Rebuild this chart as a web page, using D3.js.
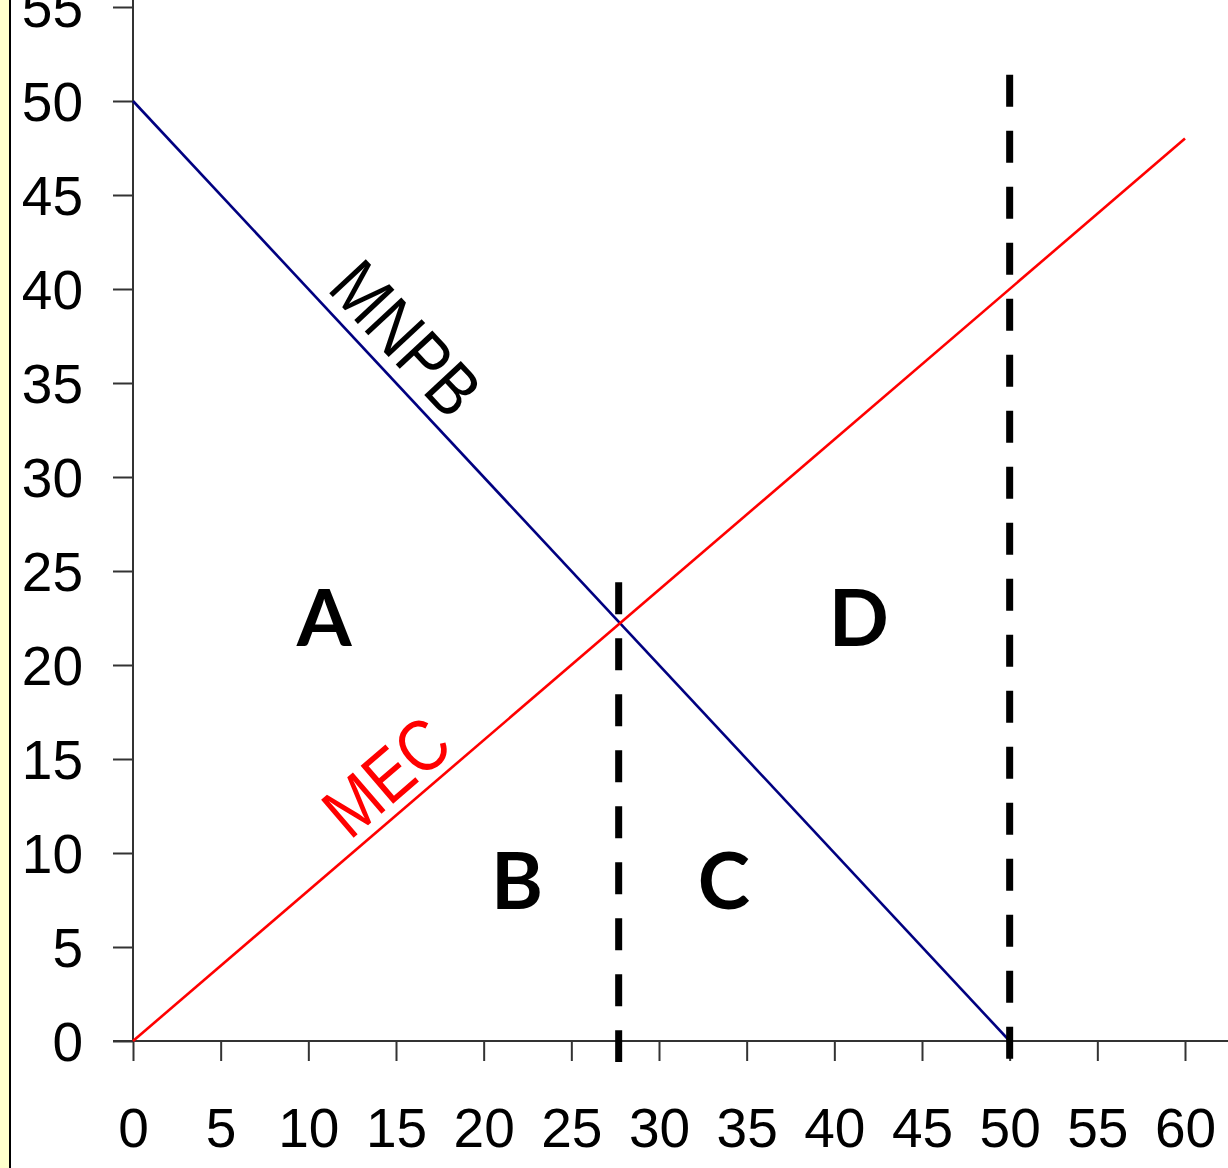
<!DOCTYPE html>
<html>
<head>
<meta charset="utf-8">
<script src="https://cdn.jsdelivr.net/npm/d3@7"></script>
<style>
  body { margin: 0; background: #fff; }
  svg { display: block; }
</style>
</head>
<body>
<div id="vis"></div>
<script>
// chart data
const X_TICKS = [0, 5, 10, 15, 20, 25, 30, 35, 40, 45, 50, 55, 60];
const Y_TICKS = [0, 5, 10, 15, 20, 25, 30, 35, 40, 45, 50, 55];
const MNPB = [{q: 0, v: 50}, {q: 50, v: 0}];
const MEC = [{q: 0, v: 0}, {q: 60, v: 48}];
const DASHED_Q = [27.7, 50];
const DASHED_TOP = [24.4, 51.4];
const AREA_LABELS = ["A", "B", "C", "D"];
const AREA_Q = [10.9, 21.9, 33.7, 41.4];
const AREA_V = [21, 7, 7, 21];

const FRAME_WIDTH = 1228;
const FRAME_HEIGHT = 1168;

const FRAME = d3.select("#vis")
  .append("svg")
  .attr("width", FRAME_WIDTH)
  .attr("height", FRAME_HEIGHT);

// yellow strip on the left side
FRAME.append("rect")
  .attr("x", 0).attr("y", 0)
  .attr("width", 9).attr("height", FRAME_HEIGHT)
  .attr("fill", "#ffffcc");
FRAME.append("line")
  .attr("x1", 10).attr("x2", 10)
  .attr("y1", 0).attr("y2", FRAME_HEIGHT)
  .attr("stroke", "#000").attr("stroke-width", 2);

const X_SCALE = d3.scaleLinear().domain([0, 60]).range([133, 1185]);
const Y_SCALE = d3.scaleLinear().domain([0, 55]).range([1041, 7]);

const FONT = "'Liberation Sans', Arial, sans-serif";
const AXIS_COLOR = "#333";

// y axis
const yAxis = FRAME.append("g")
  .attr("transform", "translate(" + X_SCALE(0) + ",0)")
  .call(d3.axisLeft(Y_SCALE).tickValues(Y_TICKS).tickSize(20).tickPadding(30));
yAxis.select(".domain").remove();
yAxis.selectAll("line").attr("stroke", AXIS_COLOR).attr("stroke-width", 2);
yAxis.selectAll("text")
  .attr("font-family", FONT)
  .attr("font-size", "55px")
  .attr("fill", "#000")
  .attr("dy", "0.36em");

// x axis
const xAxis = FRAME.append("g")
  .attr("transform", "translate(0," + Y_SCALE(0) + ")")
  .call(d3.axisBottom(X_SCALE).tickValues(X_TICKS).tickSize(20).tickPadding(47));
xAxis.select(".domain").remove();
xAxis.selectAll("line").attr("stroke", AXIS_COLOR).attr("stroke-width", 2);
xAxis.selectAll("text")
  .attr("font-family", FONT)
  .attr("font-size", "55px")
  .attr("fill", "#000")
  .attr("dy", "0.71em");

// axis lines (they run past the plot)
FRAME.append("line")
  .attr("x1", X_SCALE(0)).attr("x2", X_SCALE(0))
  .attr("y1", 0).attr("y2", Y_SCALE(0))
  .attr("stroke", AXIS_COLOR).attr("stroke-width", 2);
FRAME.append("line")
  .attr("x1", X_SCALE(0) - 20).attr("x2", FRAME_WIDTH)
  .attr("y1", Y_SCALE(0)).attr("y2", Y_SCALE(0))
  .attr("stroke", AXIS_COLOR).attr("stroke-width", 2);

// curves
const line = d3.line().x(d => X_SCALE(d.q)).y(d => Y_SCALE(d.v));
FRAME.append("path").datum(MNPB)
  .attr("d", line).attr("fill", "none")
  .attr("stroke", "#000080").attr("stroke-width", 2.6);
FRAME.append("path").datum(MEC)
  .attr("d", line).attr("fill", "none")
  .attr("stroke", "#ff0000").attr("stroke-width", 2.6);

// dashed verticals
FRAME.selectAll(".vline")
  .data(DASHED_Q)
  .enter()
  .append("line")
  .attr("class", "vline")
  .attr("x1", d => X_SCALE(d)).attr("x2", d => X_SCALE(d))
  .attr("y1", (d, i) => Y_SCALE(DASHED_TOP[i]))
  .attr("y2", Y_SCALE(0) + 21)
  .attr("stroke", "#000")
  .attr("stroke-width", 7)
  .attr("stroke-dasharray", "32,24");

// curve labels
const mnpbAngle = Math.atan2(Y_SCALE(0) - Y_SCALE(50), X_SCALE(50) - X_SCALE(0)) * 180 / Math.PI;
const mecAngle = -Math.atan2(Y_SCALE(0) - Y_SCALE(48), X_SCALE(60) - X_SCALE(0)) * 180 / Math.PI;

FRAME.append("text")
  .attr("transform", "translate(" + X_SCALE(15.6) + "," + Y_SCALE(37.4) + ") rotate(" + mnpbAngle + ") scale(0.95,1.1)")
  .attr("text-anchor", "middle")
  .attr("dy", "0.36em")
  .attr("font-family", FONT)
  .attr("font-size", "66px")
  .attr("fill", "#000")
  .text("MNPB");

FRAME.append("text")
  .attr("transform", "translate(" + X_SCALE(14.4) + "," + Y_SCALE(14.1) + ") rotate(" + mecAngle + ") scale(0.95,1.1)")
  .attr("text-anchor", "middle")
  .attr("dy", "0.36em")
  .attr("font-family", FONT)
  .attr("font-size", "66px")
  .attr("fill", "#ff0000")
  .text("MEC");

// area letters
FRAME.selectAll(".area-label")
  .data(AREA_LABELS)
  .enter()
  .append("text")
  .attr("class", "area-label")
  .attr("x", (d, i) => X_SCALE(AREA_Q[i]))
  .attr("y", (d, i) => Y_SCALE(AREA_V[i]))
  .attr("text-anchor", "middle")
  .attr("font-family", "Lato, 'Open Sans', sans-serif")
  .attr("font-weight", "bold")
  .attr("font-size", "79px")
  .attr("fill", "#000")
  .text(d => d);
</script>
</body>
</html>
